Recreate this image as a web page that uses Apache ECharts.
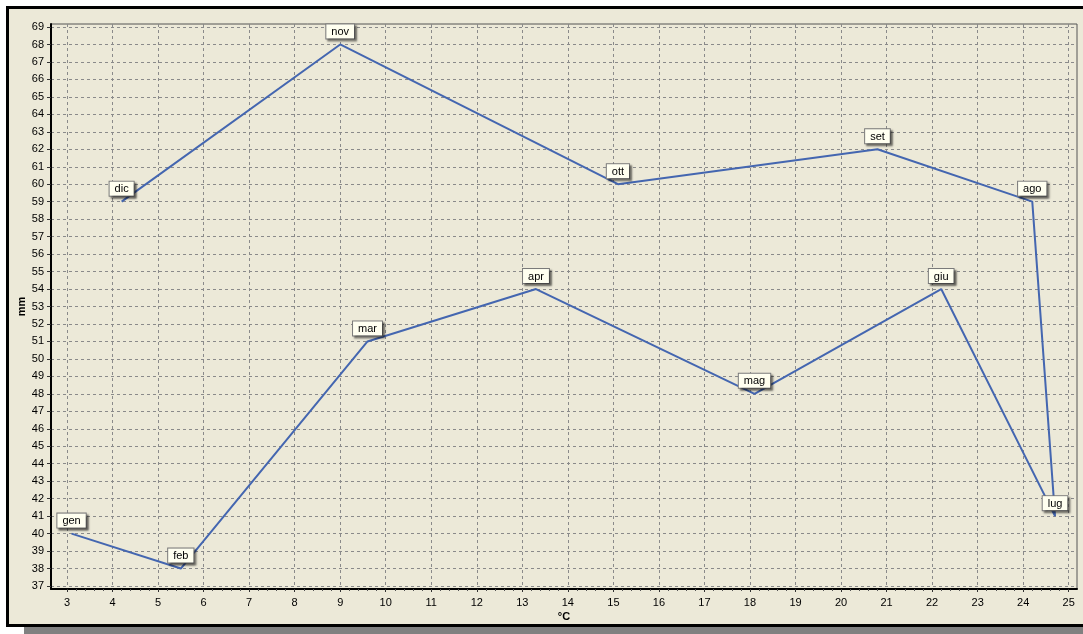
<!DOCTYPE html>
<html>
<head>
<meta charset="utf-8">
<script src="https://cdn.jsdelivr.net/npm/echarts@6/dist/echarts.min.js"></script>
<style>
  html, body { margin: 0; padding: 0; background: #ffffff; overflow: hidden; }
  #frame { position: absolute; left: 6px; top: 6px; width: 1100px; height: 615px;
           border: 3px solid #000; background: #ece9d8; }
  #shade { position: absolute; left: 24px; top: 627px; width: 1100px; height: 10px; background: #808080; }
  #chart { position: absolute; left: 0; top: 0; width: 1083px; height: 634px; }
</style>
</head>
<body>
<div id="frame"></div>
<div id="shade"></div>
<div id="chart"></div>
<script>
// Monthly mean temperature (°C) against monthly rainfall (mm)
const months = ['gen', 'feb', 'mar', 'apr', 'mag', 'giu', 'lug', 'ago', 'set', 'ott', 'nov', 'dic'];
const temperature = [3.1, 5.5, 9.6, 13.3, 18.1, 22.2, 24.7, 24.2, 20.8, 15.1, 9.0, 4.2];
const rainfall = [40, 38, 51, 54, 48, 54, 41, 59, 62, 60, 68, 59];

// axis ranges: tick ranges and the padded plot extent around them
const xTicks = { min: 3, max: 25, step: 1 };
const yTicks = { min: 37, max: 69, step: 1 };
const xPlot = { min: 2.65, max: 25.17 };
const yPlot = { min: 36.83, max: 69.17 };

const points = months.map((m, i) => ({ name: m, value: [temperature[i], rainfall[i]] }));

const FONT = 'Liberation Sans';
const gridLine = { show: true, lineStyle: { color: '#8a8a8a', type: [3, 3], width: 1 } };
const hidden = { show: false };

const chart = echarts.init(document.getElementById('chart'), null, { renderer: 'canvas' });
chart.setOption({
  animation: false,
  backgroundColor: 'transparent',
  grid: [
    // plot frame
    { left: 51, top: 24, right: 6, bottom: 45, show: true, borderColor: '#555', borderWidth: 1,
      backgroundColor: 'transparent', outerBoundsMode: 'none' },
    // horizontal grid + value labels of mm
    { left: 51, top: 27, right: 6, bottom: 48, outerBoundsMode: 'none' },
    // vertical grid + value labels of °C, and the data
    { left: 67, top: 24, right: 14.3, bottom: 45, outerBoundsMode: 'none' }
  ],
  xAxis: [
    { gridIndex: 0, type: 'value', min: xPlot.min, max: xPlot.max,
      axisLine: { show: true, lineStyle: { color: '#000', width: 2 } },
      axisTick: hidden, axisLabel: hidden, splitLine: hidden,
      name: '°C', nameLocation: 'middle', nameGap: 22,
      nameTextStyle: { fontFamily: FONT, fontSize: 11, fontWeight: 'bold', color: '#000' } },
    { gridIndex: 1, type: 'value', min: xPlot.min, max: xPlot.max, show: false },
    { gridIndex: 2, type: 'value', min: xTicks.min, max: xTicks.max, interval: xTicks.step,
      axisLine: hidden,
      axisTick: { show: true, length: 3, inside: false, lineStyle: { color: '#333' } },
      minorTick: { show: true, splitNumber: 5, length: 2, lineStyle: { color: '#555' } },
      axisLabel: { fontFamily: FONT, fontSize: 11, color: '#000', margin: 8 },
      splitLine: gridLine }
  ],
  yAxis: [
    { gridIndex: 0, type: 'value', min: yPlot.min, max: yPlot.max,
      axisLine: { show: true, lineStyle: { color: '#000', width: 2 } },
      axisTick: hidden, axisLabel: hidden, splitLine: hidden,
      name: 'mm', nameLocation: 'middle', nameGap: 24, nameRotate: 90,
      nameTextStyle: { fontFamily: FONT, fontSize: 11, fontWeight: 'bold', color: '#000' } },
    { gridIndex: 1, type: 'value', min: yTicks.min, max: yTicks.max, interval: yTicks.step,
      axisLine: hidden,
      axisTick: { show: true, length: 4, inside: false, lineStyle: { color: '#333' } },
      axisLabel: { fontFamily: FONT, fontSize: 11, color: '#000', margin: 7 },
      splitLine: gridLine },
    { gridIndex: 2, type: 'value', min: yPlot.min, max: yPlot.max, show: false }
  ],
  series: [{
    type: 'line',
    xAxisIndex: 2,
    yAxisIndex: 2,
    data: points,
    symbol: 'circle',
    symbolSize: 0,
    showSymbol: true,
    lineStyle: { color: '#4466b0', width: 2 },
    itemStyle: { color: '#4466b0' },
    label: {
      show: true,
      position: 'top',
      distance: 6,
      formatter: p => p.name,
      fontFamily: FONT,
      fontSize: 11,
      color: '#000',
      backgroundColor: '#fffff0',
      borderColor: '#7a7a7a',
      borderWidth: 1,
      padding: [2, 5, 1, 5],
      shadowColor: 'rgba(0,0,0,0.45)',
      shadowBlur: 2,
      shadowOffsetX: 2,
      shadowOffsetY: 2
    },
    emphasis: { disabled: true },
    z: 5
  }]
});
</script>
</body>
</html>
